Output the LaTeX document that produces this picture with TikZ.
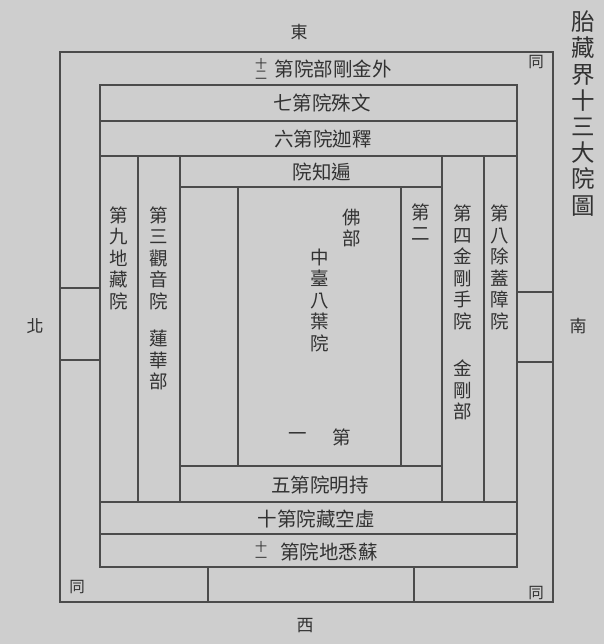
\documentclass[tikz,border=0pt]{standalone}
\usepackage{fontspec}
\newfontfamily\cjk{Noto Sans CJK TC}
\definecolor{paper}{RGB}{206,206,206}
\definecolor{ink}{RGB}{75,75,75}
\definecolor{txt}{RGB}{50,50,50}
\tikzset{
  frame/.style={draw=ink, line width=1.3pt},
  band/.style={text=txt, font=\cjk\fontsize{19.5}{21}\selectfont, inner sep=0pt},
  vt/.style={text=txt, font=\cjk\fontsize{18.5}{21.5}\selectfont, align=center, inner sep=0pt},
  small/.style={text=txt, font=\cjk\fontsize{12}{10.5}\selectfont, align=center, inner sep=0pt},
  dir/.style={text=txt, font=\cjk\fontsize{17}{17}\selectfont, inner sep=0pt},
  title/.style={text=txt, font=\cjk\fontsize{23.5}{26.2}\selectfont, align=center, inner sep=0pt},
  tong/.style={text=txt, font=\cjk\fontsize{15.5}{15.5}\selectfont, inner sep=0pt}
}
\begin{document}
\begin{tikzpicture}[x=1pt,y=-1pt]
\fill[paper] (0,0) rectangle (604,644);
\useasboundingbox (0,0) rectangle (604,644);
% outer and second frames
\draw[frame] (60,52) rectangle (553,602);
\draw[frame] (100,85) rectangle (517,567);
% horizontal bands top
\draw[frame] (100,121) -- (517,121);
\draw[frame] (100,156) -- (517,156);
% side columns
\draw[frame] (138,156) -- (138,502);
\draw[frame] (180,156) -- (180,502);
\draw[frame] (442,156) -- (442,502);
\draw[frame] (484,156) -- (484,502);
% 院知遍 band and inner
\draw[frame] (180,187) -- (442,187);
\draw[frame] (238,187) -- (238,466);
\draw[frame] (401,187) -- (401,466);
\draw[frame] (180,466) -- (442,466);
% bottom bands
\draw[frame] (100,502) -- (517,502);
\draw[frame] (100,534) -- (517,534);
% outer strips
\draw[frame] (60,288) -- (100,288);
\draw[frame] (60,360) -- (100,360);
\draw[frame] (517,292) -- (553,292);
\draw[frame] (517,362) -- (553,362);
\draw[frame] (208,567) -- (208,602);
\draw[frame] (414,567) -- (414,602);
% direction labels
\node[dir] (east) at (299,32) {東};
\node[dir] (west) at (305,626) {西};
\node[dir] (north) at (35,326) {北};
\node[dir] (south) at (578,326) {南};
\node[title] (ttl) at (583,113.5) {胎\\藏\\界\\十\\三\\大\\院\\圖};
\node[tong] (t1) at (536,62) {同};
\node[tong] (t2) at (77,587) {同};
\node[tong] (t3) at (536,593) {同};
% bands
\node[small] (n12) at (261,69) {十\\二};
\node[band] (b12) at (333,69) {第院部剛金外};
\node[band] (b7) at (322,103) {七第院殊文};
\node[band] (b6) at (323,139) {六第院迦釋};
\node[band] (b1) at (322,172) {院知遍};
\node[band] (b5) at (320,485) {五第院明持};
\node[band] (b10) at (316,519) {十第院藏空虛};
\node[small] (n11) at (261,552) {十\\一};
\node[band] (b11) at (329,552) {第院地悉蘇};
% vertical texts
\node[vt] (c9) at (119,258) {第\\九\\地\\藏\\院};
\node[vt] (c3) at (159,258) {第\\三\\觀\\音\\院};
\node[vt] (c3b) at (159,360) {蓮\\華\\部};
\node[vt] (cb) at (352,228) {佛\\部};
\node[vt] (cc) at (320,300) {中\\臺\\八\\葉\\院};
\node[vt] (ci) at (298,437) {一};
\node[vt] (cd) at (342,437) {第};
\node[vt] (c2) at (421,222) {第\\二};
\node[vt] (c4) at (463,267.5) {第\\四\\金\\剛\\手\\院};
\node[vt] (c4b) at (463,390) {金\\剛\\部};
\node[vt] (c8) at (500,267.5) {第\\八\\除\\蓋\\障\\院};
\end{tikzpicture}
\end{document}
